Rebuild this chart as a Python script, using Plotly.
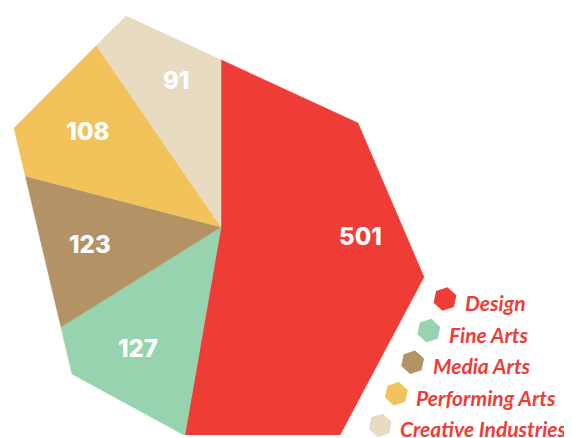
import math
import plotly.graph_objects as go

# ---------------- data ----------------
categories = ["Design", "Fine Arts", "Media Arts", "Performing Arts", "Creative Industries"]
values = [501, 127, 123, 108, 91]

# ---------------- style / geometry ----------------
colors = ["#EE3D37", "#98D3B0", "#B39366", "#F2C25B", "#E8DBC1"]
TEXT_RED = "#EE3D37"
OFF = 8                                        # page body margin of the html
W, H = 572 - OFF, 438 - OFF
CENTER = (221.0, 227.0)                       # pie centre (pixel-like units)
OUTLINE = [(126, 16), (358, 123), (424, 277),  # irregular hexagon outline
           (305, 501), (72, 374), (14, 128)]
LABEL_R = 0.74                                # label radius as fraction of outline distance
LEG_X0, LEG_Y0, LEG_DX, LEG_DY = 445, 299, -16.2, 31.6
LEG_GAP = 18


def vert_angle(p):
    dx, dy = p[0] - CENTER[0], p[1] - CENTER[1]
    return math.degrees(math.atan2(dx, -dy)) % 360


def boundary(theta):
    """intersection of a ray (clockwise from 12 o'clock) with the outline"""
    t = math.radians(theta)
    dx, dy = math.sin(t), -math.cos(t)
    best = None
    n = len(OUTLINE)
    for i in range(n):
        x1, y1 = OUTLINE[i]
        x2, y2 = OUTLINE[(i + 1) % n]
        ex, ey = x2 - x1, y2 - y1
        den = dx * ey - dy * ex
        if abs(den) < 1e-12:
            continue
        wx, wy = x1 - CENTER[0], y1 - CENTER[1]
        tt = (wx * ey - wy * ex) / den
        ss = (wx * dy - wy * dx) / den
        if tt > 0 and -1e-9 <= ss <= 1 + 1e-9:
            if best is None or tt < best[0]:
                best = (tt, CENTER[0] + tt * dx, CENTER[1] + tt * dy)
    return best


total = sum(values)
fig = go.Figure()

label_x, label_y = [], []
start = 0.0
for name, v, c in zip(categories, values, colors):
    span = 360.0 * v / total
    a0, a1 = start, start + span
    pts = [CENTER]
    b0 = boundary(a0)
    pts.append((b0[1], b0[2]))
    inner = sorted([p for p in OUTLINE if a0 < vert_angle(p) < a1], key=vert_angle)
    pts.extend(inner)
    b1 = boundary(a1 % 360)
    pts.append((b1[1], b1[2]))
    pts.append(CENTER)
    fig.add_trace(go.Scatter(
        x=[p[0] for p in pts], y=[p[1] for p in pts],
        mode="lines", fill="toself", fillcolor=c,
        line=dict(color=c, width=0.5), name=name, hoverinfo="name",
    ))
    mid = (a0 + a1) / 2
    bm = boundary(mid)
    r = bm[0] * LABEL_R
    label_x.append(CENTER[0] + r * math.sin(math.radians(mid)))
    label_y.append(CENTER[1] - r * math.cos(math.radians(mid)))
    start = a1

# value labels
fig.add_trace(go.Scatter(
    x=label_x, y=label_y, mode="text", text=[str(v) for v in values],
    textposition="middle center",
    textfont=dict(family="Inter, Lato, sans-serif", size=24, color="white", weight=800),
    hoverinfo="skip",
))

# custom legend
leg_x = [LEG_X0 + i * LEG_DX for i in range(len(categories))]
leg_y = [LEG_Y0 + i * LEG_DY for i in range(len(categories))]
fig.add_trace(go.Scatter(
    x=leg_x, y=leg_y, mode="markers",
    marker=dict(symbol="hexagon", size=24, color=colors, angle=12, line=dict(width=0)),
    cliponaxis=False, hoverinfo="skip",
))
for x, y, name in zip(leg_x, leg_y, categories):
    fig.add_annotation(
        x=x + LEG_GAP, y=y + 3.5, xref="x", yref="y", text=name, showarrow=False,
        xanchor="left", yanchor="middle",
        font=dict(family="Lato, sans-serif", size=21, color=TEXT_RED, style="italic", weight="bold"),
    )

fig.update_layout(
    width=W, height=H,
    margin=dict(l=0, r=0, t=0, b=3, pad=0),
    paper_bgcolor="white", plot_bgcolor="white",
    showlegend=False,
    xaxis=dict(range=[OFF, 572], visible=False, fixedrange=True),
    yaxis=dict(range=[435, OFF], visible=False, fixedrange=True),
)

fig.write_html("out.html")
